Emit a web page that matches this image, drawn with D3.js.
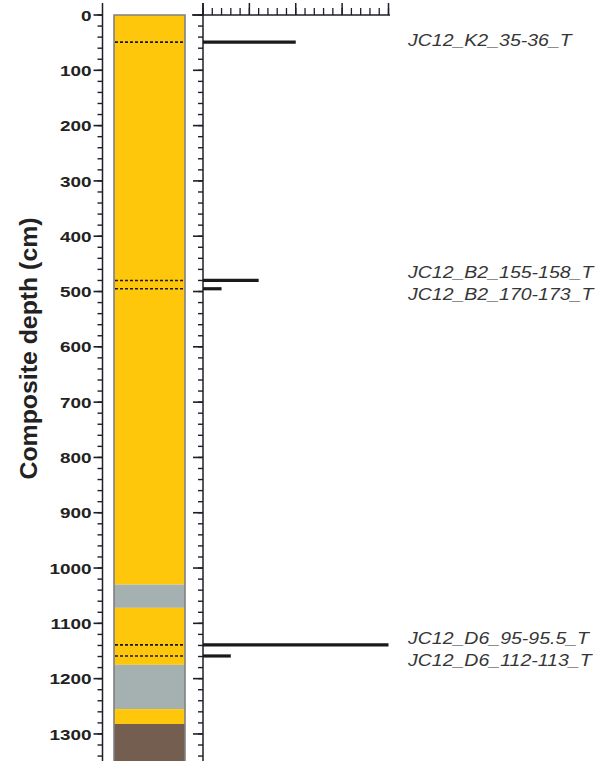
<!DOCTYPE html>
<html>
<head>
<meta charset="utf-8">
<script src="https://cdn.jsdelivr.net/npm/d3@7"></script>
<style>
  body { margin: 0; background: #fff; }
  svg { display: block; font-family: "Liberation Sans", Arial, sans-serif; }
</style>
</head>
<body>
<div id="chart"></div>
<script>
// lithology units (top, bottom depth in cm, type)
const unitTops = [0, 1030, 1072, 1175, 1255, 1282];
const unitBottoms = [1030, 1072, 1175, 1255, 1282, 1350];
const unitTypes = ["sand", "silt", "sand", "silt", "sand", "mud"];

// tephra samples
const sampleNames = ["JC12_K2_35-36_T", "JC12_B2_155-158_T", "JC12_B2_170-173_T", "JC12_D6_95-95.5_T", "JC12_D6_112-113_T"];
const sampleDepths = [49, 480, 495, 1139, 1159];
const sampleCounts = [20, 12, 4, 40, 6];

const depthTicks = d3.range(0, 1301, 100);
const depthMinor = d3.range(0, 1351, 20);
const countMajor = d3.range(0, 41, 10);
const countMinor = d3.range(0, 41, 2);

const W = 595, H = 761;
const sx = 1.22; // horizontal text stretch
const fill = { sand: "#ffc70b", silt: "#a5b1b1", mud: "#735e4f" };
const ink = "#1e1e2a";

const svg = d3.select("#chart").append("svg").attr("width", W).attr("height", H);

const y = d3.scaleLinear().domain([0, 1350]).range([15, 761.6]);
const x = d3.scaleLinear().domain([0, 40]).range([203, 388.5]);

const colL = 114, colR = 185, axL = 102.5, axR = 203;

// lithology column
svg.append("g").selectAll("rect")
  .data(unitTops)
  .join("rect")
  .attr("x", colL)
  .attr("width", colR - colL)
  .attr("y", d => y(d))
  .attr("height", (d, i) => y(unitBottoms[i]) - y(d))
  .attr("fill", (d, i) => fill[unitTypes[i]]);

svg.append("path")
  .attr("d", `M${colL},${H + 2}V${y(0)}H${colR}V${H + 2}`)
  .attr("fill", "none").attr("stroke", "#808080").attr("stroke-width", 1.6);

// tephra horizons in the column
svg.append("g").selectAll("line")
  .data(sampleDepths)
  .join("line")
  .attr("x1", colL + 1).attr("x2", colR - 1)
  .attr("y1", d => y(d)).attr("y2", d => y(d))
  .attr("stroke", "#1a1a1a").attr("stroke-width", 1.6)
  .attr("stroke-dasharray", "3,2");

// left depth axis
const leftAxis = svg.append("g").attr("transform", `translate(${axL},0)`);
leftAxis.append("line").attr("y1", 3).attr("y2", H).attr("stroke", ink).attr("stroke-width", 1.5);
leftAxis.selectAll(".minor").data(depthMinor).join("line")
  .attr("x1", -5).attr("x2", 0)
  .attr("y1", d => y(d)).attr("y2", d => y(d))
  .attr("stroke", ink).attr("stroke-width", 1.4);
leftAxis.selectAll(".major").data(depthTicks).join("line")
  .attr("x1", -9).attr("x2", 0)
  .attr("y1", d => y(d)).attr("y2", d => y(d))
  .attr("stroke", ink).attr("stroke-width", 1.6);
leftAxis.selectAll("text").data(depthTicks).join("text")
  .attr("transform", d => `translate(-11,${y(d)}) scale(${sx},1)`)
  .attr("text-anchor", "end")
  .attr("dy", "0.36em")
  .attr("font-size", 15.5)
  .attr("font-weight", 600)
  .attr("fill", "#222")
  .text(d => d);

svg.append("text")
  .attr("transform", `translate(37,${(y(0) + y(1300)) / 2 - 26}) rotate(-90)`)
  .attr("text-anchor", "middle")
  .attr("font-size", 23)
  .attr("font-weight", "bold")
  .attr("textLength", 262)
  .attr("lengthAdjust", "spacingAndGlyphs")
  .attr("fill", "#222")
  .text("Composite depth (cm)");

// right depth axis (no labels)
const rightAxis = svg.append("g").attr("transform", `translate(${axR},0)`);
rightAxis.append("line").attr("y1", 3).attr("y2", H).attr("stroke", ink).attr("stroke-width", 1.5);
rightAxis.selectAll(".minor").data(depthMinor).join("line")
  .attr("x1", -5).attr("x2", 0)
  .attr("y1", d => y(d)).attr("y2", d => y(d))
  .attr("stroke", ink).attr("stroke-width", 1.4);
rightAxis.selectAll(".major").data(depthTicks).join("line")
  .attr("x1", -10).attr("x2", 0)
  .attr("y1", d => y(d)).attr("y2", d => y(d))
  .attr("stroke", ink).attr("stroke-width", 1.6);

// top count axis
const topAxis = svg.append("g").attr("transform", `translate(0,${y(0)})`);
topAxis.append("line").attr("x1", 192).attr("x2", 390).attr("stroke", ink).attr("stroke-width", 1.5);
topAxis.selectAll(".minor").data(countMinor).join("line")
  .attr("x1", d => x(d)).attr("x2", d => x(d))
  .attr("y1", -7).attr("y2", 0)
  .attr("stroke", ink).attr("stroke-width", 1.3);
topAxis.selectAll(".major").data(countMajor).join("line")
  .attr("x1", d => x(d)).attr("x2", d => x(d))
  .attr("y1", -12).attr("y2", 0)
  .attr("stroke", ink).attr("stroke-width", 1.5);

// sample bars
svg.append("g").selectAll("line")
  .data(sampleDepths)
  .join("line")
  .attr("x1", x(0)).attr("x2", (d, i) => x(sampleCounts[i]))
  .attr("y1", d => y(d)).attr("y2", d => y(d))
  .attr("stroke", "#1a1a1a").attr("stroke-width", 3.2);

// labels: spread apart where samples are close
const labelY = sampleDepths.map(d => y(d));
for (let k = 0; k < 20; k++) {
  for (let i = 1; i < labelY.length; i++) {
    const gap = labelY[i] - labelY[i - 1];
    if (gap < 22) {
      const push = (22 - gap) / 2;
      labelY[i - 1] -= push;
      labelY[i] += push;
    }
  }
}
svg.append("g").selectAll("text")
  .data(sampleNames)
  .join("text")
  .attr("transform", (d, i) => `translate(408,${labelY[i] - 1.5}) scale(${sx},1)`)
  .attr("dy", "0.36em")
  .attr("font-size", 16)
  .attr("font-style", "italic")
  .attr("fill", "#363636")
  .text(d => d);
</script>
</body>
</html>
